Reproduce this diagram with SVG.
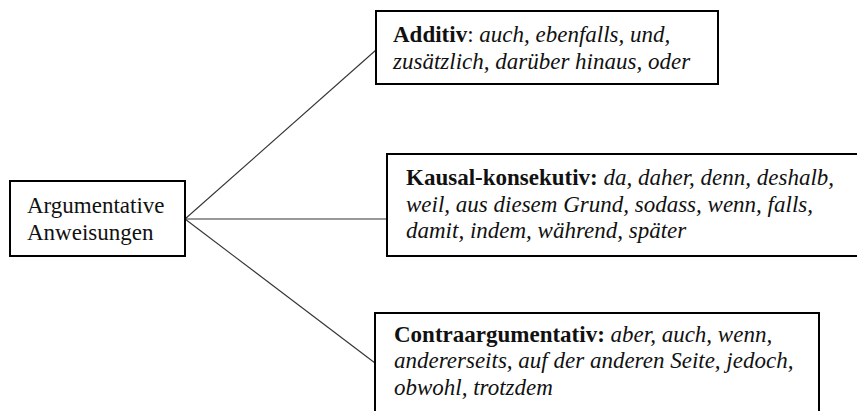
<svg xmlns="http://www.w3.org/2000/svg" width="857" height="411" viewBox="0 0 857 411">
<style>
  .box { fill: #fff; stroke: #000; stroke-width: 2; }
  .t { font-family: "Liberation Serif", "Times New Roman", serif; font-size: 23px; fill: #111; }
  .b { font-weight: bold; }
  .i { font-style: italic; }
  .conn line { stroke: #333; stroke-width: 1.1; }
</style>
<rect width="857" height="411" fill="#fff"/>
<g id="connectors" class="conn">
  <line x1="185" y1="219" x2="376" y2="50"/>
  <line x1="185" y1="219" x2="387" y2="219"/>
  <line x1="185" y1="219" x2="375" y2="363"/>
</g>
<g id="node-root">
  <rect class="box" x="10" y="181" width="175" height="75"/>
  <text class="t" x="27" y="213">Argumentative</text>
  <text class="t" x="27" y="240">Anweisungen</text>
</g>
<g id="node-additiv">
  <rect class="box" x="376" y="11" width="342" height="73"/>
  <text class="t" x="393" y="42"><tspan class="b">Additiv</tspan>: <tspan class="i">auch, ebenfalls, und,</tspan></text>
  <text class="t i" x="393" y="68.5">zusätzlich, darüber hinaus, oder</text>
</g>
<g id="node-kausal">
  <rect class="box" x="387" y="154" width="490" height="102"/>
  <text class="t" x="406" y="185"><tspan class="b">Kausal-konsekutiv:</tspan> <tspan class="i">da, daher, denn, deshalb,</tspan></text>
  <text class="t i" x="406" y="211.5">weil, aus diesem Grund, sodass, wenn, falls,</text>
  <text class="t i" x="406" y="238">damit, indem, während, später</text>
</g>
<g id="node-contra">
  <rect class="box" x="375" y="313" width="444" height="120"/>
  <text class="t" x="394" y="341.5"><tspan class="b">Contraargumentativ:</tspan> <tspan class="i">aber, auch, wenn,</tspan></text>
  <text class="t i" x="394" y="368">andererseits, auf der anderen Seite, jedoch,</text>
  <text class="t i" x="394" y="394.5">obwohl, trotzdem</text>
</g>
</svg>
